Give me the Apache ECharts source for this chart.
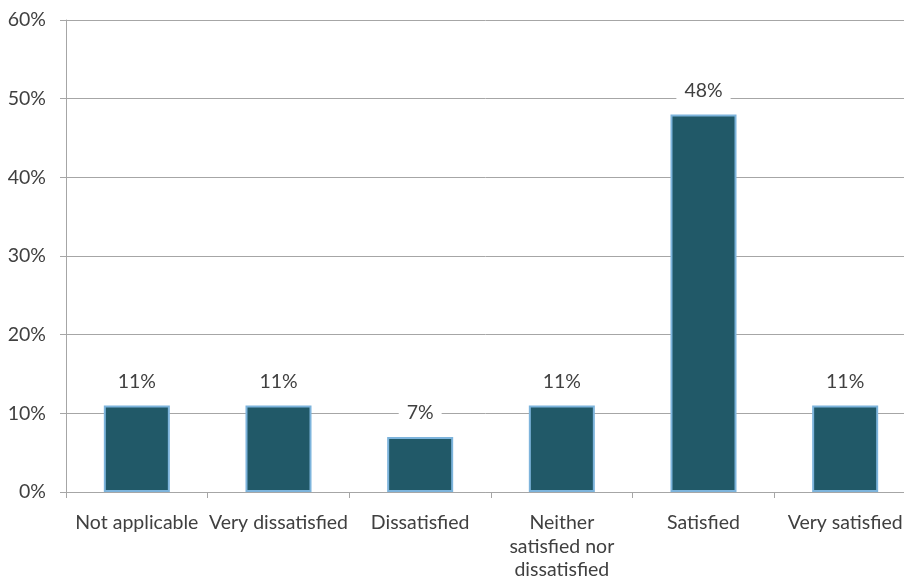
<!DOCTYPE html>
<html>
<head>
<meta charset="utf-8">
<script src="https://cdn.jsdelivr.net/npm/echarts@6/dist/echarts.min.js"></script>
<style>
  html, body { margin: 0; padding: 0; background: #fff; }
  #chart { width: 904px; height: 580px; }
</style>
</head>
<body>
<div id="chart"></div>
<script>
// Satisfaction survey responses (% of respondents)
const categories = [
  'Not applicable',
  'Very dissatisfied',
  'Dissatisfied',
  'Neither\nsatisfied nor\ndissatisfied',
  'Satisfied',
  'Very satisfied'
];
const shares = [11, 11, 7, 11, 48, 11];
const yTicks = { min: 0, max: 60, step: 10 };

const textColor = '#404040';
const gridColor = '#a6a6a6';
const font = 'Lato';
const fontSize = 19.5;

const chart = echarts.init(document.getElementById('chart'));
chart.setOption({
  animation: false,
  // plot runs slightly past the right edge of the canvas
  grid: {
    left: 66, width: 850, top: 20, bottom: 88,
    containLabel: false, outerBoundsMode: 'none'
  },
  xAxis: {
    type: 'category',
    data: categories,
    axisLine: { show: true, lineStyle: { color: gridColor, width: 1 } },
    axisTick: { show: true, length: 6, lineStyle: { color: gridColor } },
    axisLabel: {
      color: textColor, fontFamily: font, fontSize: fontSize,
      margin: 19, lineHeight: 23.5, interval: 0
    }
  },
  yAxis: {
    type: 'value',
    min: yTicks.min, max: yTicks.max, interval: yTicks.step,
    axisLine: { show: true, lineStyle: { color: gridColor, width: 1 } },
    axisTick: { show: true, length: 6, lineStyle: { color: gridColor } },
    splitLine: { show: true, lineStyle: { color: gridColor, width: 1 } },
    axisLabel: {
      color: textColor, fontFamily: font, fontSize: fontSize, margin: 20,
      formatter: '{value}%'
    }
  },
  series: [{
    type: 'bar',
    data: shares,
    barWidth: '46.6%',
    itemStyle: { color: '#215968', borderColor: '#7db4dc', borderWidth: 2 },
    label: {
      show: true, position: 'top', distance: 12,
      formatter: '{c}%',
      color: textColor, fontFamily: font, fontSize: fontSize,
      backgroundColor: '#fff', padding: [2, 8]
    }
  }]
});
</script>
</body>
</html>
